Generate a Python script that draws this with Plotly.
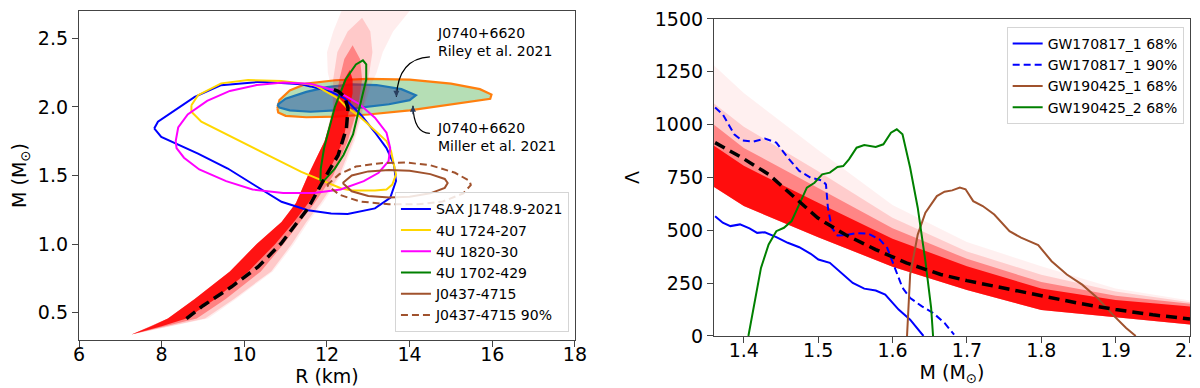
import plotly.graph_objects as go

# ---------------- left panel: mass-radius ----------------
# EOS band, sampled along M: left / right edge in R (km), four density levels
l4_m = [0.34, 0.456, 0.6, 0.8, 1.0, 1.16, 1.3, 1.5, 1.75, 2.0, 2.15, 2.25, 2.4, 2.55, 2.7]
l4_r_lo = [7.27, 8.15, 8.8, 9.65, 10.3, 10.9, 11.25, 11.54, 11.94, 12.15, 12.1, 12.02, 12.0, 12.15, 12.35]
l4_r_hi = [7.27, 9.12, 9.8, 10.69, 11.2, 11.55, 11.9, 12.34, 12.67, 12.9, 13.05, 13.2, 13.35, 13.6, 14.0]

l3_m = [0.34, 0.456, 0.6, 0.8, 1.0, 1.16, 1.3, 1.5, 1.75, 2.0, 2.2, 2.4, 2.55, 2.65]
l3_r_lo = [7.27, 8.15, 8.8, 9.65, 10.3, 10.9, 11.25, 11.54, 11.94, 12.15, 12.15, 12.25, 12.5, 12.85]
l3_r_hi = [7.27, 9.05, 9.75, 10.65, 11.15, 11.5, 11.85, 12.3, 12.63, 12.88, 13.0, 13.1, 13.05, 12.85]

l2_m = [0.34, 0.456, 0.6, 0.8, 1.0, 1.16, 1.3, 1.5, 1.75, 2.0, 2.2, 2.35, 2.45]
l2_r_lo = [7.27, 8.15, 8.8, 9.65, 10.3, 10.9, 11.25, 11.54, 11.94, 12.19, 12.3, 12.42, 12.62]
l2_r_hi = [7.27, 8.85, 9.55, 10.4, 10.95, 11.35, 11.7, 12.15, 12.5, 12.75, 12.85, 12.8, 12.62]

l1_m = [0.34, 0.40, 0.456, 0.6, 0.8, 1.0, 1.16, 1.3, 1.5, 1.75, 2.0, 2.1, 2.2, 2.27]
l1_r_lo = [7.27, 7.75, 8.15, 8.8, 9.65, 10.3, 10.9, 11.25, 11.54, 11.94, 12.19, 12.3, 12.42, 12.55]
l1_r_hi = [7.27, 8.0, 8.6, 9.3, 10.1, 10.75, 11.2, 11.55, 12.0, 12.39, 12.55, 12.62, 12.62, 12.55]

# most probable EOS (black dashed)
best_r = [8.6, 9.0, 9.69, 10.33, 10.89, 11.3, 11.54, 11.94, 12.27, 12.47, 12.51, 12.43, 12.27, 12.1]
best_m = [0.456, 0.55, 0.688, 0.833, 1.004, 1.162, 1.26, 1.478, 1.648, 1.843, 1.99, 2.074, 2.115, 2.135]

sax_r = [7.82, 7.99, 8.88, 9.6, 10.25, 10.9, 11.54, 12.1, 12.5, 13.16, 13.53, 13.67, 13.62, 13.44,
         13.15, 12.83, 12.43, 12.1, 11.6, 11.38, 10.41, 9.44, 8.8, 8.32, 7.91, 7.82]
sax_m = [1.843, 1.782, 1.66, 1.551, 1.429, 1.308, 1.247, 1.223, 1.22, 1.26, 1.337, 1.46, 1.58, 1.70,
         1.819, 1.94, 2.062, 2.11, 2.15, 2.165, 2.184, 2.159, 2.074, 1.977, 1.892, 1.843]

u1724_r = [8.72, 8.88, 9.44, 10.09, 10.9, 11.7, 12.27, 12.47, 12.79, 13.23, 13.44, 13.55, 13.62, 13.67,
           13.58, 13.44, 13.16, 12.61, 12.35, 11.86, 11.38, 10.57, 9.77, 8.96, 8.72, 8.72]
u1724_m = [2.013, 2.086, 2.172, 2.196, 2.19, 2.16, 2.062, 2.0, 1.93, 1.807, 1.751, 1.678, 1.58, 1.507,
           1.434, 1.398, 1.39, 1.39, 1.405, 1.466, 1.527, 1.648, 1.77, 1.892, 1.965, 2.013]

u1820_r = [8.34, 8.40, 8.63, 9.1, 9.65, 10.3, 10.94, 11.59, 12.24, 12.79, 13.16, 13.44, 13.53, 13.49,
           13.25, 12.89, 12.33, 11.68, 10.94, 10.2, 9.56, 8.91, 8.54, 8.36, 8.34]
u1820_m = [1.751, 1.85, 1.946, 2.044, 2.117, 2.16, 2.178, 2.17, 2.117, 2.02, 1.922, 1.812, 1.70, 1.605,
           1.52, 1.459, 1.398, 1.373, 1.373, 1.398, 1.459, 1.544, 1.63, 1.70, 1.751]

u1702_r = [11.84, 11.85, 11.93, 12.02, 12.19, 12.45, 12.7, 12.87, 12.95, 12.95, 12.79, 12.63, 12.4, 12.19, 11.95, 11.84]
u1702_m = [1.46, 1.55, 1.70, 1.80, 2.0, 2.2, 2.31, 2.34, 2.31, 2.2, 2.0, 1.8, 1.65, 1.55, 1.47, 1.46]

j0437_r = [12.38, 12.6, 13.0, 13.5, 14.0, 14.5, 14.85, 14.92, 14.85, 14.5, 14.0, 13.5, 13.0, 12.6, 12.38]
j0437_m = [1.445, 1.50, 1.53, 1.54, 1.535, 1.51, 1.475, 1.445, 1.41, 1.37, 1.345, 1.34, 1.35, 1.385, 1.445]

j0437_90_r = [12.0, 12.3, 12.7, 13.3, 13.9, 14.5, 15.1, 15.45, 15.48, 15.3, 14.8, 14.2, 13.5, 12.8, 12.3, 12.0]
j0437_90_m = [1.43, 1.51, 1.565, 1.59, 1.595, 1.575, 1.52, 1.46, 1.43, 1.37, 1.31, 1.29, 1.29, 1.31, 1.36, 1.43]

riley_r = [10.8, 11.0, 11.5, 12.0, 12.6, 13.2, 13.8, 14.15, 14.0, 13.5, 12.8, 12.2, 11.6, 11.1, 10.85, 10.8]
riley_m = [2.015, 2.06, 2.11, 2.145, 2.165, 2.16, 2.13, 2.085, 2.05, 2.02, 1.995, 1.975, 1.965, 1.975, 1.995, 2.015]

miller_r = [10.8, 10.85, 11.1, 11.5, 12.2, 13.0, 14.0, 15.0, 15.7, 15.98, 15.95, 15.5, 14.8, 14.0,
            13.0, 12.2, 11.5, 11.0, 10.82, 10.8]
miller_m = [1.99, 2.05, 2.12, 2.17, 2.195, 2.205, 2.2, 2.17, 2.13, 2.09, 2.06, 2.04, 2.01, 1.975,
            1.945, 1.93, 1.925, 1.935, 1.96, 1.99]

# ---------------- right panel: tidal deformability ----------------
lam_m = [1.36, 1.4, 1.5, 1.6, 1.7, 1.8, 1.9, 2.0]
lam_lo = [705, 615, 467, 328, 218, 123, 89, 54]
lam_l1_hi = [900, 805, 630, 460, 330, 225, 170, 140]
lam_l2_hi = [1000, 890, 700, 510, 365, 255, 190, 152]
lam_l3_hi = [1100, 990, 780, 560, 400, 290, 210, 160]
lam_l4_hi = [1280, 1150, 880, 620, 445, 330, 225, 168]

best_lm = [1.3614, 1.3974, 1.4334, 1.4643, 1.4992, 1.5362, 1.5774, 1.6185, 1.6648, 1.7, 1.75, 1.8, 1.85, 1.9, 1.95, 2.0]
best_lam = [915, 844, 765, 670, 559, 480, 409, 346, 291, 262, 225, 192, 155, 125, 100, 80]

gw1_68_m = [1.3614, 1.3717, 1.382, 1.3949, 1.4077, 1.418, 1.4283, 1.4437, 1.4591, 1.4746, 1.49, 1.5003,
            1.5157, 1.5311, 1.5465, 1.562, 1.5774, 1.5902, 1.6082, 1.6237, 1.6416]
gw1_68_lam = [567, 536, 520, 528, 509, 488, 491, 468, 441, 420, 389, 362, 346, 299, 251, 224, 215, 196, 125, 77, 0]

gw1_90_m = [1.3614, 1.3717, 1.3871, 1.3974, 1.4129, 1.4283, 1.4437, 1.4591, 1.4746, 1.49, 1.5054, 1.5105,
            1.5131, 1.5183, 1.526, 1.5362, 1.5517, 1.5671, 1.5825, 1.5928, 1.6031, 1.6134, 1.6237, 1.6391,
            1.6545, 1.6699, 1.6828]
gw1_90_lam = [1081, 1049, 954, 926, 920, 934, 915, 844, 781, 749, 736, 717, 607, 512, 476, 477, 487, 485,
              457, 417, 322, 228, 180, 141, 109, 62, 6]

gw2_1_m = [1.6195, 1.6237, 1.6339, 1.6442, 1.6596, 1.6699, 1.6802, 1.6905, 1.6982, 1.7085, 1.7213, 1.7368,
           1.7573, 1.7728, 1.7959, 1.8139, 1.8344, 1.855, 1.8756, 1.8961, 1.9141, 1.927]
gw2_1_lam = [0, 291, 480, 583, 662, 683, 689, 702, 694, 638, 615, 575, 496, 465, 430, 354, 291, 243, 180, 101, 38, 0]

gw2_2_m = [1.4062, 1.4129, 1.4231, 1.4334, 1.4437, 1.454, 1.4643, 1.4746, 1.4848, 1.4951, 1.5054, 1.5157,
           1.526, 1.5337, 1.5414, 1.5517, 1.562, 1.5774, 1.5877, 1.5979, 1.6057, 1.6134, 1.6237, 1.6339,
           1.6442, 1.6519, 1.6545]
gw2_2_lam = [0, 133, 322, 433, 496, 512, 544, 623, 702, 725, 765, 773, 800, 804, 836, 891, 904, 894, 907,
             962, 978, 954, 796, 607, 354, 133, 0]

FONT = "DejaVu Sans"

fig = go.Figure()


def band_mr(m, lo, hi, alpha):
    fig.add_trace(go.Scatter(x=lo + hi[::-1], y=m + m[::-1], fill="toself", mode="none",
                             fillcolor=f"rgba(255,0,0,{alpha})", showlegend=False, hoverinfo="skip",
                             xaxis="x", yaxis="y"))


def band_lam(m, lo, hi, alpha):
    fig.add_trace(go.Scatter(x=m + m[::-1], y=lo + hi[::-1], fill="toself", mode="none",
                             fillcolor=f"rgba(255,0,0,{alpha})", showlegend=False, hoverinfo="skip",
                             xaxis="x2", yaxis="y2"))


# J0740+6620 regions
fig.add_trace(go.Scatter(x=miller_r, y=miller_m, fill="toself", fillcolor="rgba(44,160,44,0.35)",
                         mode="lines", line=dict(color="#ff7f0e", width=2.2), showlegend=False))
fig.add_trace(go.Scatter(x=riley_r, y=riley_m, fill="toself", fillcolor="rgba(55,100,170,0.6)",
                         mode="lines", line=dict(color="#1f77b4", width=2.2), showlegend=False))

band_mr(l4_m, l4_r_lo, l4_r_hi, 0.07)
band_mr(l3_m, l3_r_lo, l3_r_hi, 0.15)
band_mr(l2_m, l2_r_lo, l2_r_hi, 0.35)
band_mr(l1_m, l1_r_lo, l1_r_hi, 0.85)

contours = [
    (sax_r, sax_m, "SAX J1748.9-2021", "#0000ff", "solid"),
    (u1724_r, u1724_m, "4U 1724-207", "#ffd700", "solid"),
    (u1820_r, u1820_m, "4U 1820-30", "#ff00ff", "solid"),
    (u1702_r, u1702_m, "4U 1702-429", "#008000", "solid"),
    (j0437_r, j0437_m, "J0437-4715", "#a0522d", "solid"),
    (j0437_90_r, j0437_90_m, "J0437-4715 90%", "#a0522d", "7px,4px"),
]
for r, m, name, col, dash in contours:
    fig.add_trace(go.Scatter(x=r, y=m, mode="lines", name=name, legend="legend",
                             line=dict(color=col, width=2, dash=dash), xaxis="x", yaxis="y"))

fig.add_trace(go.Scatter(x=best_r, y=best_m, mode="lines", showlegend=False,
                         line=dict(color="black", width=3.5, dash="11px,6px"), xaxis="x", yaxis="y"))

band_lam(lam_m, lam_lo, lam_l4_hi, 0.06)
band_lam(lam_m, lam_lo, lam_l3_hi, 0.15)
band_lam(lam_m, lam_lo, lam_l2_hi, 0.35)
band_lam(lam_m, lam_lo, lam_l1_hi, 0.9)

gw = [
    (gw1_68_m, gw1_68_lam, "GW170817_1 68%", "#0000ff", "solid"),
    (gw1_90_m, gw1_90_lam, "GW170817_1 90%", "#0000ff", "7px,4px"),
    (gw2_1_m, gw2_1_lam, "GW190425_1 68%", "#a0522d", "solid"),
    (gw2_2_m, gw2_2_lam, "GW190425_2 68%", "#008000", "solid"),
]
for m, lam, name, col, dash in gw:
    fig.add_trace(go.Scatter(x=m, y=lam, mode="lines", name=name, legend="legend2",
                             line=dict(color=col, width=2, dash=dash), xaxis="x2", yaxis="y2"))

fig.add_trace(go.Scatter(x=best_lm, y=best_lam, mode="lines", showlegend=False,
                         line=dict(color="black", width=3.5, dash="11px,6px"), xaxis="x2", yaxis="y2"))

# annotations with curved arrows
txt = dict(family=FONT, size=14, color="black")
fig.add_annotation(x=14.61, y=2.476, xref="x", yref="y", text="J0740+6620<br>Riley et al. 2021",
                   showarrow=False, xanchor="left", align="left", font=txt)
fig.add_annotation(x=14.61, y=1.779, xref="x", yref="y", text="J0740+6620<br>Miller et al. 2021",
                   showarrow=False, xanchor="left", align="left", font=txt)
fig.add_shape(type="path", xref="x", yref="y", path="M 14.49,2.366 Q 13.72,2.354 13.68,2.074",
              line=dict(color="black", width=1.2))
fig.add_shape(type="path", xref="x", yref="y", path="M 14.49,1.807 Q 14.1,1.81 14.08,2.009",
              line=dict(color="black", width=1.2))
fig.add_annotation(x=13.68, y=2.074, xref="x", yref="y", ax=0, ay=-10, text="", showarrow=True,
                   arrowhead=2, arrowsize=1, arrowwidth=1.2, standoff=0)
fig.add_annotation(x=14.08, y=2.009, xref="x", yref="y", ax=0, ay=10, text="", showarrow=True,
                   arrowhead=2, arrowsize=1, arrowwidth=1.2, standoff=0)

axis_style = dict(showgrid=False, zeroline=False, showline=True, mirror=True, linecolor="#444",
                  linewidth=1.3, ticks="outside", ticklen=6, tickwidth=1.3, tickcolor="#444",
                  tickfont=dict(family=FONT, size=19, color="black"), automargin=False,
                  ticklabeloverflow="allow")
title_font = dict(family=FONT, size=19, color="black")
legend_style = dict(font=dict(family=FONT, size=14, color="black"), bgcolor="rgba(255,255,255,0.85)",
                    bordercolor="#d5d5d5", borderwidth=1, tracegroupgap=0, itemwidth=30)

fig.update_layout(
    width=1200, height=388,
    margin=dict(l=71, r=18, t=3, b=56),
    paper_bgcolor="white", plot_bgcolor="white",
    xaxis=dict(domain=[0, 0.4464], range=[6, 18], tickvals=[6, 8, 10, 12, 14, 16, 18], ticklabelstandoff=-9,
               title=dict(text="R (km)", font=title_font, standoff=0), anchor="y", **axis_style),
    yaxis=dict(domain=[0, 1], range=[0.3, 2.7], tickvals=[0.5, 1.0, 1.5, 2.0, 2.5], tickformat=".1f",
               title=dict(text="M (M<sub>⊙</sub>)", font=title_font, standoff=8), anchor="x", **axis_style),
    xaxis2=dict(domain=[0.5716, 1], range=[1.36, 2.0], tickvals=[1.4, 1.5, 1.6, 1.7, 1.8, 1.9, 2.0],
                tickformat=".1f", ticklabelstandoff=-9,
                title=dict(text="M (M<sub>⊙</sub>)", font=title_font, standoff=0),
                anchor="y2", **axis_style),
    yaxis2=dict(domain=[0.0122, 0.9757], range=[0, 1500], tickvals=[0, 250, 500, 750, 1000, 1250, 1500],
                title=dict(text="Λ", font=title_font, standoff=10), anchor="x2", **axis_style),
    legend=dict(x=0.441, y=0.0234, xanchor="right", yanchor="bottom", **legend_style),
    legend2=dict(x=0.9943, y=0.9514, xanchor="right", yanchor="top", **legend_style),
)

fig.write_html("out.html")
